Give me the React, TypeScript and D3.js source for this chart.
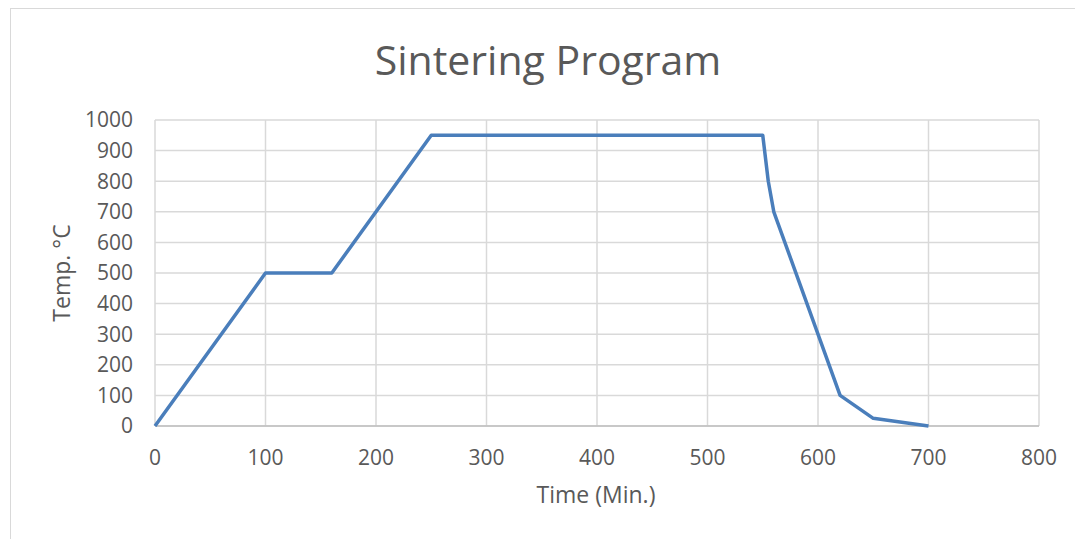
import React from "react";
import * as d3 from "d3";

const timeValues = [0, 100, 160, 250, 550, 555, 560, 620, 650, 700];
const tempValues = [0, 500, 500, 950, 950, 800, 700, 100, 25, 0];
const xTicks = [0, 100, 200, 300, 400, 500, 600, 700, 800];
const yTicks = [0, 100, 200, 300, 400, 500, 600, 700, 800, 900, 1000];

const W = 1075;
const H = 539;
const M = { left: 155, right: 1039, top: 120, bottom: 426 };
const FONT = "'Open Sans', sans-serif";

export default function App() {
  const x = d3.scaleLinear().domain([0, 800]).range([M.left, M.right]);
  const y = d3.scaleLinear().domain([0, 1000]).range([M.bottom, M.top]);
  const pts = timeValues.map((t, i) => [t, tempValues[i]] as [number, number]);
  const line = d3
    .line<[number, number]>()
    .x((d) => x(d[0]))
    .y((d) => y(d[1]));

  return (
    <svg
      width={W}
      height={H}
      style={{ position: "absolute", left: 0, top: 0, background: "#fff" }}
    >
      <rect x={0} y={0} width={W} height={H} fill="#fff" />
      <rect x={10.5} y={8.5} width={W + 10} height={H + 10} fill="none" stroke="#d9d9d9" strokeWidth={1} />
      <text x={548} y={75} textAnchor="middle" fontFamily={FONT} fontSize={41} fill="#595959">
        Sintering Program
      </text>
      {yTicks.map((t) => (
        <g key={"y" + t}>
          <line x1={M.left} x2={M.right} y1={y(t)} y2={y(t)} stroke="#d9d9d9" strokeWidth={1.5} />
          <text x={133} y={y(t)} dy="0.35em" textAnchor="end" fontFamily={FONT} fontSize={21} fill="#595959">
            {t}
          </text>
        </g>
      ))}
      {xTicks.map((t) => (
        <g key={"x" + t}>
          <line x1={x(t)} x2={x(t)} y1={M.top} y2={M.bottom} stroke="#d9d9d9" strokeWidth={1.5} />
          <text x={x(t)} y={465} textAnchor="middle" fontFamily={FONT} fontSize={21} fill="#595959">
            {t}
          </text>
        </g>
      ))}
      <line x1={M.left} x2={M.right} y1={M.bottom} y2={M.bottom} stroke="#bfbfbf" strokeWidth={1.5} />
      <text x={596} y={503} textAnchor="middle" fontFamily={FONT} fontSize={23} fill="#595959">
        Time (Min.)
      </text>
      <text
        transform={`translate(70, ${(M.top + M.bottom) / 2}) rotate(-90)`}
        textAnchor="middle"
        fontFamily={FONT}
        fontSize={23}
        fill="#595959"
      >
        Temp. °C
      </text>
      <path d={line(pts) || ""} fill="none" stroke="#4a7ebb" strokeWidth={3.5} strokeLinejoin="round" />
    </svg>
  );
}
